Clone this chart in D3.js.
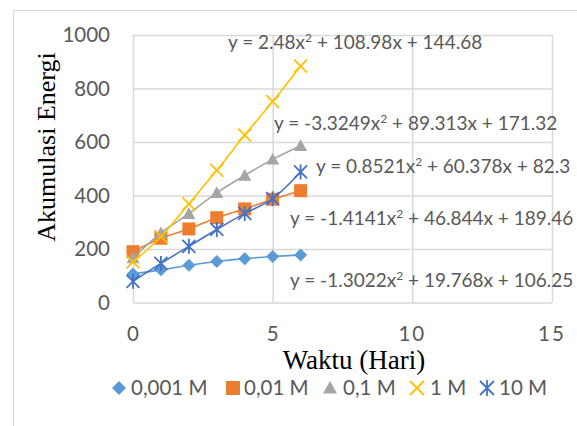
<!DOCTYPE html>
<html><head><meta charset="utf-8">
<script src="https://cdn.jsdelivr.net/npm/d3@7"></script>
<style>body{margin:0;background:#fff}svg{display:block}</style>
</head><body>
<svg id="c" width="577" height="426"></svg>
<script>
const days = [0, 1, 2, 3, 4, 5, 6];
const s0001 = [107, 122, 139, 153, 164, 172, 178];
const s001 = [190, 240, 275, 317, 350, 386, 418];
const s01 = [166, 260, 332, 410, 475, 535, 586];
const s1 = [152, 246, 369, 494, 626, 751, 884];
const s10 = [79, 146, 210, 273, 333, 388, 488];
const seriesNames = ["0,001 M", "0,01 M", "0,1 M", "1 M", "10 M"];
const equations = [
  "y = -1.3022x² + 19.768x + 106.25",
  "y = -1.4141x² + 46.844x + 189.46",
  "y = -3.3249x² + 89.313x + 171.32",
  "y = 2.48x² + 108.98x + 144.68",
  "y = 0.8521x² + 60.378x + 82.3"
];
const xTicks = [0, 5, 10, 15];
const yTicks = [0, 200, 400, 600, 800, 1000];

const colors = ["#5B9BD5", "#ED7D31", "#A5A5A5", "#FFC000", "#4472C4"];
const shapes = ["diamond", "square", "triangle", "x", "star"];
const values = [s0001, s001, s01, s1, s10];

const svg = d3.select("#c");
const x = d3.scaleLinear().domain([0, 15]).range([133, 552]);
const y = d3.scaleLinear().domain([0, 1000]).range([302.5, 35]);
const sans = "Lato, 'Open Sans', sans-serif";
const serif = "'Liberation Serif', 'Times New Roman', serif";

// outer frame
svg.append("rect").attr("x", 13.5).attr("y", 10.5).attr("width", 600).attr("height", 500)
  .attr("fill", "none").attr("stroke", "#d9d9d9").attr("stroke-width", 1);

// grid
const gx = svg.append("g").attr("transform", "translate(0,302.5)")
  .call(d3.axisBottom(x).tickValues(xTicks).tickSize(-267.5).tickFormat(""));
const gy = svg.append("g").attr("transform", "translate(133,0)")
  .call(d3.axisLeft(y).tickValues(yTicks).tickSize(-419).tickFormat(""));
[gx, gy].forEach(g => {
  g.select(".domain").remove();
  g.selectAll(".tick line").attr("stroke", "#d9d9d9").attr("stroke-width", 1.5);
});

// tick labels
svg.append("g").selectAll("text").data(yTicks).join("text")
  .attr("x", 110).attr("y", d => y(d)).attr("dy", "0.36em")
  .attr("text-anchor", "end").attr("font-family", sans).attr("font-size", 20.5)
  .attr("fill", "#595959").text(d => d);
svg.append("g").selectAll("text").data(xTicks).join("text")
  .attr("x", d => x(d)).attr("y", 334).attr("dy", "0.36em")
  .attr("text-anchor", "middle").attr("font-family", sans).attr("font-size", 20.5)
  .attr("letter-spacing", d => d >= 10 ? 2 : 0)
  .attr("fill", "#595959").text(d => d);

// axis titles
svg.append("text").attr("x", 354).attr("y", 369).attr("text-anchor", "middle")
  .attr("font-family", serif).attr("font-size", 27).attr("fill", "#000").text("Waktu (Hari)");
svg.append("text").attr("transform", "translate(55,147) rotate(-90)").attr("text-anchor", "middle")
  .attr("font-family", serif).attr("font-size", 26).attr("fill", "#000").text("Akumulasi Energi");

function marker(g, shape, color, cx, cy, s) {
  if (shape === "diamond") {
    g.append("path").attr("d", `M${cx},${cy-s}L${cx+s},${cy}L${cx},${cy+s}L${cx-s},${cy}Z`).attr("fill", color);
  } else if (shape === "square") {
    g.append("rect").attr("x", cx - s).attr("y", cy - s).attr("width", 2*s).attr("height", 2*s).attr("fill", color);
  } else if (shape === "triangle") {
    g.append("path").attr("d", `M${cx},${cy-s}L${cx+s},${cy+s*0.8}L${cx-s},${cy+s*0.8}Z`).attr("fill", color);
  } else if (shape === "x") {
    g.append("path").attr("d", `M${cx-s},${cy-s}L${cx+s},${cy+s}M${cx+s},${cy-s}L${cx-s},${cy+s}`)
      .attr("stroke", color).attr("stroke-width", 1.8).attr("fill", "none");
  } else {
    g.append("path").attr("d", `M${cx-s},${cy-s}L${cx+s},${cy+s}M${cx+s},${cy-s}L${cx-s},${cy+s}M${cx},${cy-s*1.15}L${cx},${cy+s*1.15}`)
      .attr("stroke", color).attr("stroke-width", 1.8).attr("fill", "none");
  }
}

// lines and markers
const line = d3.line().x(d => x(d[0])).y(d => y(d[1])).curve(d3.curveMonotoneX);
values.forEach((vals, i) => {
  const pts = days.map((d, j) => [d, vals[j]]);
  const g = svg.append("g");
  g.append("path").attr("d", line(pts)).attr("fill", "none").attr("stroke", colors[i]).attr("stroke-width", 1.6);
  pts.forEach(p => marker(g, shapes[i], colors[i], x(p[0]), y(p[1]), 6.5));
});

// equations
const eqPos = [[290, 280], [290, 218], [274, 123], [228, 42], [316, 166]];
equations.forEach((e, i) => {
  const t = svg.append("text").attr("x", eqPos[i][0]).attr("y", eqPos[i][1] + 7)
    .attr("font-family", sans).attr("font-size", 19).attr("fill", "#595959");
  const parts = e.split("²");
  t.append("tspan").text(parts[0]);
  t.append("tspan").attr("dy", -7).attr("font-size", 12).text("2");
  t.append("tspan").attr("dy", 7).text(parts[1]);
});

// legend
const legX = [[119, 131], [233, 244], [330, 343], [417, 430], [487, 499]];
seriesNames.forEach((n, i) => {
  const g = svg.append("g");
  marker(g, shapes[i], colors[i], legX[i][0], 388, 7);
  g.append("text").attr("x", legX[i][1]).attr("y", 388).attr("dy", "0.36em")
    .attr("font-family", sans).attr("font-size", 20.5).attr("fill", "#595959").text(n);
});
</script>
</body></html>
